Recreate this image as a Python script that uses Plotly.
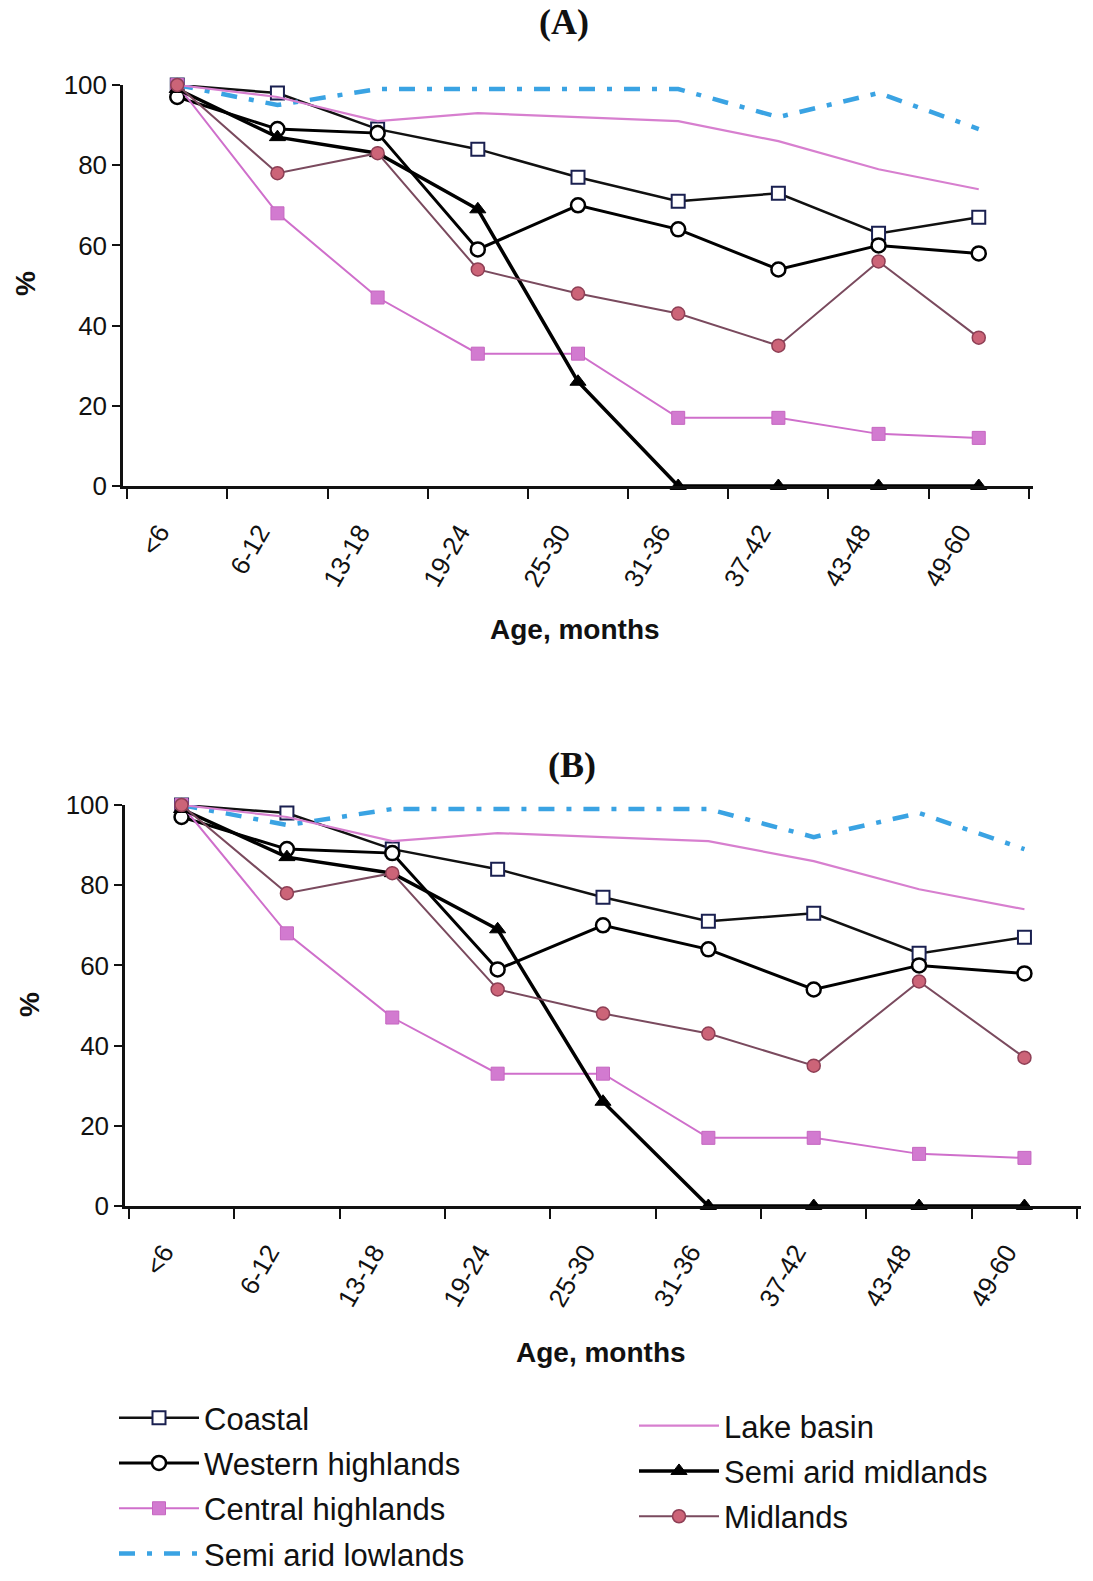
import plotly.graph_objects as go

ages = ["<6", "6-12", "13-18", "19-24", "25-30", "31-36", "37-42", "43-48", "49-60"]

coastal = [100, 98, 89, 84, 77, 71, 73, 63, 67]
western_highlands = [97, 89, 88, 59, 70, 64, 54, 60, 58]
central_highlands = [100, 68, 47, 33, 33, 17, 17, 13, 12]
semi_arid_lowlands = [100, 95, 99, 99, 99, 99, 92, 98, 89]
lake_basin = [100, 97, 91, 93, 92, 91, 86, 79, 74]
semi_arid_midlands = [99, 87, 83, 69, 26, 0, 0, 0, 0]
midlands = [100, 78, 83, 54, 48, 43, 35, 56, 37]

y_ticks = [0, 20, 40, 60, 80, 100]

H = 1581
W = 1093

series = [
    dict(name="Coastal", y=coastal, mode="lines+markers", leg="legend",
         line=dict(color="#111111", width=2.5),
         marker=dict(symbol="square", size=13, color="white", line=dict(color="#1a2050", width=2))),
    dict(name="Western highlands", y=western_highlands, mode="lines+markers", leg="legend",
         line=dict(color="#000000", width=3),
         marker=dict(symbol="circle", size=14, color="white", line=dict(color="#000000", width=2.5))),
    dict(name="Central highlands", y=central_highlands, mode="lines+markers", leg="legend",
         line=dict(color="#cf6fcb", width=2),
         marker=dict(symbol="square", size=13, color="#d27ad0", line=dict(color="#c566c0", width=1))),
    dict(name="Semi arid lowlands", y=semi_arid_lowlands, mode="lines", leg="legend",
         line=dict(color="#3aa3e3", width=4.5, dash="16px,12px,5px,12px"),
         marker=dict()),
    dict(name="Lake basin", y=lake_basin, mode="lines", leg="legend2",
         line=dict(color="#d77fcf", width=2.2),
         marker=dict()),
    dict(name="Semi arid midlands", y=semi_arid_midlands, mode="lines+markers", leg="legend2",
         line=dict(color="#000000", width=3.5),
         marker=dict(symbol="triangle-up", size=14, color="#000000", line=dict(color="#000000", width=1))),
    dict(name="Midlands", y=midlands, mode="lines+markers", leg="legend2",
         line=dict(color="#7a4a5e", width=2),
         marker=dict(symbol="circle", size=13, color="#cc6478", line=dict(color="#8e3f55", width=1.5))),
]

fig = go.Figure()
for i, (xa, ya) in enumerate([("x", "y"), ("x2", "y2")]):
    for s in series:
        fig.add_trace(go.Scatter(
            x=ages, y=s["y"], name=s["name"], mode=s["mode"],
            line=s["line"], marker=s["marker"], xaxis=xa, yaxis=ya,
            showlegend=(i == 0), cliponaxis=False, legend=s["leg"],
            legendgroup=s["name"],
        ))

def ydom(top_px, bot_px):
    return [1 - bot_px / H, 1 - top_px / H]

axis_font = dict(family="Liberation Sans, Arial", size=26, color="#111111")

xcommon = dict(type="category", tickson="boundaries", ticks="outside", ticklen=10,
               tickwidth=2, tickcolor="#111", showline=True, linecolor="#111", linewidth=2.5,
               showgrid=False, zeroline=False, tickangle=-60, tickfont=axis_font, automargin=False,
               ticklabelstandoff=18, ticklabelshift=-18)
ycommon = dict(range=[0, 100], tickvals=y_ticks, ticks="outside", ticklen=8,
               tickwidth=2, tickcolor="#111", showline=True, linecolor="#111", linewidth=2.5,
               showgrid=False, zeroline=False, tickfont=axis_font, automargin=False)

leg_font = dict(family="Liberation Sans, Arial", size=31, color="#111")

fig.update_layout(
    width=W, height=H,
    margin=dict(l=0, r=0, t=0, b=0),
    paper_bgcolor="white", plot_bgcolor="white",
    xaxis=dict(domain=[123 / W, 1033 / W], anchor="y", **xcommon),
    yaxis=dict(domain=ydom(85, 486), anchor="x", **ycommon),
    xaxis2=dict(domain=[125 / W, 1081 / W], anchor="y2", **xcommon),
    yaxis2=dict(domain=ydom(805, 1206), anchor="x2", **ycommon),
    legend=dict(orientation="v", x=114 / W, y=0, xanchor="left", yanchor="bottom",
                itemwidth=80, tracegroupgap=2, font=leg_font, bgcolor="rgba(0,0,0,0)"),
    legend2=dict(orientation="v", x=634 / W, y=1 - 1399 / H, xanchor="left", yanchor="top",
                 itemwidth=80, tracegroupgap=2, font=leg_font, bgcolor="rgba(0,0,0,0)"),
    showlegend=True,
)

title_font = dict(family="Liberation Serif, Times New Roman", size=36, color="#111")
label_font = dict(family="Liberation Sans, Arial", size=28, color="#111")

annotations = [
    dict(text="<b>(A)</b>", x=564 / W, y=1 - 22 / H, font=title_font),
    dict(text="<b>(B)</b>", x=572 / W, y=1 - 765 / H, font=title_font),
    dict(text="<b>Age, months</b>", x=575 / W, y=1 - 630 / H, font=label_font),
    dict(text="<b>Age, months</b>", x=601 / W, y=1 - 1352 / H, font=label_font),
    dict(text="<b>%</b>", x=25 / W, y=1 - 284 / H, font=label_font, textangle=-90),
    dict(text="<b>%</b>", x=30 / W, y=1 - 1005 / H, font=label_font, textangle=-90),
]
for a in annotations:
    fig.add_annotation(xref="paper", yref="paper", showarrow=False,
                       xanchor="center", yanchor="middle", **a)

fig.write_html("out.html")
